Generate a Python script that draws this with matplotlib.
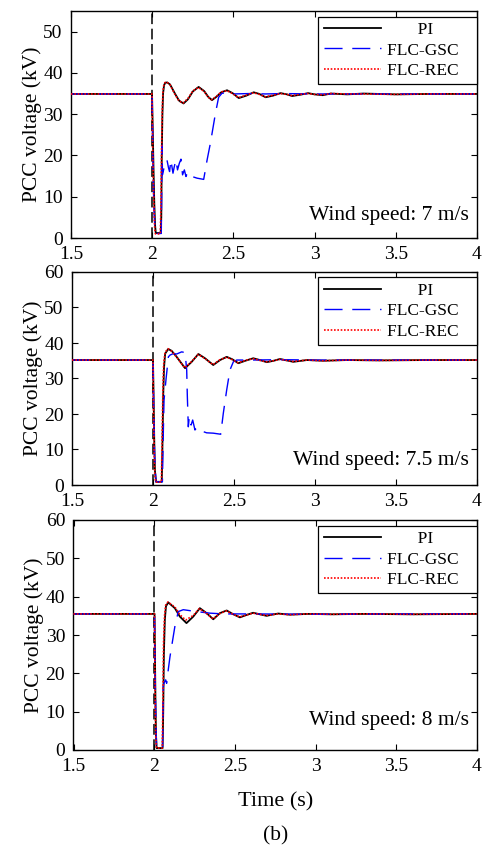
import matplotlib
matplotlib.use("Agg")
import matplotlib.pyplot as plt

plt.rcParams['font.family'] = ['Liberation Serif', 'DejaVu Serif']
plt.rcParams['mathtext.fontset'] = 'stix'

# ---------------- data ----------------
# Panel 1: wind speed 7 m/s
pi7_t = [1.5, 1.999, 2.004, 2.009, 2.013, 2.018, 2.022, 2.052, 2.056, 2.059, 2.063, 2.067, 2.073,
         2.08, 2.092, 2.11, 2.14, 2.165, 2.193, 2.22, 2.25, 2.286, 2.32, 2.345, 2.368, 2.395,
         2.425, 2.461, 2.495, 2.533, 2.58, 2.625, 2.66, 2.698, 2.745, 2.79, 2.83, 2.862, 2.91,
         2.96, 3.0, 3.05, 3.1, 3.2, 3.3, 3.5, 3.7, 4.0]
pi7_v = [34.9, 34.9, 25.0, 15.0, 8.4, 3.0, 1.2, 1.2, 5.0, 20.0, 30.0, 35.0, 37.0,
         37.6, 37.7, 37.2, 35.0, 33.3, 32.6, 33.6, 35.5, 36.6, 35.6, 34.2, 33.4, 34.2,
         35.3, 35.8, 35.1, 33.9, 34.5, 35.3, 34.9, 34.1, 34.5, 35.1, 34.8, 34.4, 34.7,
         35.1, 34.8, 34.6, 35.0, 34.8, 35.0, 34.8, 34.9, 34.9]
rec7_t = [1.5, 1.999, 2.003, 2.008, 2.012, 2.016, 2.02, 2.05, 2.054, 2.058, 2.062, 2.066, 2.072,
          2.08, 2.09, 2.11, 2.14, 2.165, 2.19, 2.22, 2.25, 2.284, 2.32, 2.345, 2.366, 2.395,
          2.425, 2.46, 2.495, 2.53, 2.58, 2.623, 2.66, 2.696, 2.745, 2.79, 2.83, 2.86, 2.91,
          2.96, 3.0, 3.05, 3.1, 3.2, 3.3, 3.5, 3.7, 4.0]
rec7_v = [34.9, 34.9, 22.0, 12.0, 6.0, 2.0, 1.0, 1.0, 8.0, 22.0, 31.0, 35.5, 37.2,
          37.7, 37.8, 37.1, 34.8, 33.2, 32.7, 33.8, 35.6, 36.5, 35.5, 34.1, 33.5, 34.3,
          35.4, 35.7, 35.0, 34.0, 34.6, 35.2, 34.8, 34.2, 34.6, 35.0, 34.8, 34.5, 34.8,
          35.0, 34.8, 34.7, 35.0, 34.9, 34.9, 34.8, 34.9, 34.9]
gsc7_t = [1.5, 1.999, 2.004, 2.01, 2.018, 2.056, 2.059, 2.061, 2.063, 2.070, 2.080, 2.091, 2.101,
          2.107, 2.115, 2.128, 2.136, 2.146, 2.156, 2.167, 2.177, 2.187, 2.198, 2.208, 2.218,
          2.228, 2.245, 2.276, 2.317, 2.338, 2.358, 2.389, 2.409, 2.43, 2.5, 2.6, 2.7, 2.8,
          3.0, 3.5, 4.0]
gsc7_v = [34.9, 34.9, 20.0, 8.0, 1.1, 1.1, 15.0, 22.5, 15.3, 16.5, 18.5, 18.9, 16.9,
          16.1, 18.9, 15.7, 17.3, 18.9, 16.5, 18.1, 19.1, 15.3, 16.5, 14.9, 15.9,
          15.3, 14.9, 14.5, 14.2, 18.9, 22.9, 30.1, 34.1, 35.1, 34.9, 35.0, 34.9, 35.0,
          34.9, 34.9, 34.9]

# Panel 2: wind speed 7.5 m/s
pi75_t = [1.5, 2.0, 2.004, 2.008, 2.012, 2.019, 2.054, 2.058, 2.063, 2.068, 2.075, 2.094,
          2.115, 2.146, 2.198, 2.239, 2.28, 2.321, 2.372, 2.414, 2.455, 2.49, 2.527, 2.57,
          2.619, 2.66, 2.702, 2.745, 2.784, 2.825, 2.866, 2.95, 3.05, 3.2, 3.4, 3.7, 4.0]
pi75_v = [35.2, 35.2, 24.0, 12.0, 4.0, 0.9, 0.9, 10.0, 25.0, 33.0, 37.0, 38.3,
          37.8, 36.1, 32.9, 34.7, 36.9, 35.7, 33.8, 35.2, 36.1, 35.4, 34.3, 35.0,
          35.7, 35.2, 34.6, 35.0, 35.5, 35.1, 34.7, 35.2, 35.0, 35.2, 35.1, 35.2, 35.2]
rec75_t = [1.5, 2.0, 2.003, 2.007, 2.011, 2.017, 2.052, 2.056, 2.061, 2.066, 2.074, 2.092,
           2.115, 2.146, 2.196, 2.239, 2.28, 2.321, 2.37, 2.414, 2.455, 2.49, 2.525, 2.57,
           2.617, 2.66, 2.7, 2.745, 2.784, 2.825, 2.866, 2.95, 3.05, 3.2, 3.4, 3.7, 4.0]
rec75_v = [35.2, 35.2, 22.0, 10.0, 3.0, 0.8, 0.8, 12.0, 27.0, 34.0, 37.3, 38.4,
           37.7, 36.0, 33.0, 34.8, 36.8, 35.6, 33.9, 35.3, 36.0, 35.3, 34.4, 35.1,
           35.6, 35.1, 34.7, 35.0, 35.4, 35.1, 34.8, 35.2, 35.0, 35.2, 35.1, 35.2, 35.2]
gsc75_t = [1.5, 2.0, 2.004, 2.01, 2.018, 2.058, 2.064, 2.068, 2.08, 2.095, 2.105, 2.125, 2.146,
           2.177, 2.198, 2.208, 2.212, 2.218, 2.224, 2.235, 2.245, 2.259, 2.27, 2.28, 2.30,
           2.331, 2.372, 2.418, 2.434, 2.455, 2.475, 2.496, 2.517, 2.6, 2.8, 3.0, 3.5, 4.0]
gsc75_v = [35.2, 35.2, 22.0, 8.0, 0.9, 0.9, 15.5, 23.9, 29.6, 36.1, 36.6, 37.0, 36.9,
           37.5, 37.3, 32.4, 24.9, 16.4, 19.2, 16.9, 18.3, 15.5, 16.2, 15.8, 15.2,
           14.7, 14.6, 14.3, 20.2, 26.8, 32.4, 34.7, 35.2, 35.2, 35.3, 35.2, 35.2, 35.2]

# Panel 3: wind speed 8 m/s
pi8_t = [1.5, 2.002, 2.005, 2.008, 2.011, 2.015, 2.052, 2.056, 2.06, 2.066, 2.073, 2.087,
         2.128, 2.159, 2.2, 2.242, 2.283, 2.325, 2.366, 2.407, 2.449, 2.49, 2.531, 2.57,
         2.613, 2.655, 2.696, 2.73, 2.768, 2.84, 2.95, 3.1, 3.3, 3.6, 4.0]
pi8_v = [35.5, 35.5, 24.0, 12.0, 4.0, 0.5, 0.5, 10.0, 25.0, 34.0, 37.5, 38.5,
         37.0, 34.8, 33.1, 34.8, 37.0, 35.7, 34.1, 35.7, 36.4, 35.4, 34.6, 35.2,
         35.8, 35.4, 35.0, 35.3, 35.6, 35.3, 35.5, 35.4, 35.5, 35.4, 35.5]
rec8_t = [1.5, 2.002, 2.004, 2.007, 2.010, 2.014, 2.05, 2.054, 2.058, 2.064, 2.071, 2.085,
          2.128, 2.159, 2.195, 2.242, 2.28, 2.325, 2.364, 2.407, 2.447, 2.49, 2.53, 2.57,
          2.612, 2.655, 2.695, 2.73, 2.768, 2.84, 2.95, 3.1, 3.3, 3.6, 4.0]
rec8_v = [35.5, 35.5, 22.0, 10.0, 3.0, 0.5, 0.5, 12.0, 28.0, 35.0, 37.8, 38.6,
          37.3, 35.3, 33.9, 35.1, 36.9, 35.6, 34.2, 35.6, 36.3, 35.4, 34.7, 35.2,
          35.7, 35.4, 35.1, 35.3, 35.5, 35.3, 35.5, 35.4, 35.5, 35.4, 35.5]
gsc8_t = [1.5, 2.002, 2.005, 2.010, 2.015, 2.052, 2.056, 2.06, 2.071, 2.077, 2.087, 2.098,
          2.108, 2.128, 2.149, 2.18, 2.263, 2.345, 2.43, 2.6, 3.0, 3.5, 4.0]
gsc8_v = [35.5, 35.5, 22.0, 8.0, 0.5, 0.5, 16.5, 17.4, 18.3, 17.4, 20.9, 24.4,
          27.0, 32.2, 36.1, 36.6, 36.1, 35.7, 35.5, 35.5, 35.4, 35.5, 35.5]

panels = [
    dict(pi=(pi7_t, pi7_v), gsc=(gsc7_t, gsc7_v), rec=(rec7_t, rec7_v),
         ylim=(0, 55), yticks=[0, 10, 20, 30, 40, 50], wind="Wind speed: 7 m/s"),
    dict(pi=(pi75_t, pi75_v), gsc=(gsc75_t, gsc75_v), rec=(rec75_t, rec75_v),
         ylim=(0, 60), yticks=[0, 10, 20, 30, 40, 50, 60], wind="Wind speed: 7.5 m/s"),
    dict(pi=(pi8_t, pi8_v), gsc=(gsc8_t, gsc8_v), rec=(rec8_t, rec8_v),
         ylim=(0, 60), yticks=[0, 10, 20, 30, 40, 50, 60], wind="Wind speed: 8 m/s"),
]
xticks = [1.5, 2, 2.5, 3, 3.5, 4]
xticklabels = ["1.5", "2", "2.5", "3", "3.5", "4"]
fault_time = 2.0
legend_labels = ["PI", "FLC-GSC", "FLC-REC"]

# ---------------- figure ----------------
W, H = 485, 846
fig = plt.figure(figsize=(W / 100, H / 100), dpi=100)
boxes = [(71, 11, 477, 238), (72, 272, 477, 485), (73.5, 520, 477, 750)]
wind_y = [0.10, 0.117, 0.13]

for i, (p, b) in enumerate(zip(panels, boxes)):
    l, t, r, bt = b
    ax = fig.add_axes([l / W, 1 - bt / H, (r - l) / W, (bt - t) / H])
    ax.axvline(fault_time, color='black', lw=1.1, ls=(0, (7, 3)), zorder=1)
    h1, = ax.plot(*p['pi'], color='black', lw=1.3, ls='-', zorder=3)
    h2, = ax.plot(*p['gsc'], color='#0000ff', lw=1.0, ls=(0, (13, 7)), zorder=4)
    h3, = ax.plot(*p['rec'], color='#ff0000', lw=1.2, ls=(0, (1, 1)), zorder=5)
    ax.set_xlim(1.5, 4)
    ax.set_ylim(*p['ylim'])
    ax.set_yticks(p['yticks'])
    ax.set_xticks(xticks)
    ax.set_xticklabels(xticklabels)
    ax.tick_params(direction='in', top=True, right=True, length=4, width=0.8,
                   labelsize=14)
    ax.tick_params(axis='x', pad=6)
    ax.tick_params(axis='y', pad=6)
    for s in ax.spines.values():
        s.set_linewidth(1.0)
    ax.set_ylabel("PCC voltage (kV)", fontsize=15.5, labelpad=1)
    labels = ["       " + legend_labels[0], legend_labels[1] + "   ", legend_labels[2] + "   "]
    leg = ax.legend([h1, h2, h3], labels,
                    loc='upper right', bbox_to_anchor=(1.0, 0.975), borderaxespad=0.0,
                    fontsize=12.5, frameon=True, fancybox=False, framealpha=1,
                    edgecolor='black', handlelength=3.3, handletextpad=0.35,
                    labelspacing=0.25, borderpad=0.3)
    leg.get_frame().set_linewidth(0.9)
    ax.text(0.98, wind_y[i], p['wind'], transform=ax.transAxes, ha='right', va='center',
            fontsize=15.5)
    if i == 2:
        ax.set_xlabel("Time (s)", fontsize=16, labelpad=12)

fig.text((73.5 + 477) / 2 / W, 1 - 836 / H, "(b)", ha='center', va='center', fontsize=15.5)

fig.savefig("out.png", dpi=100)
